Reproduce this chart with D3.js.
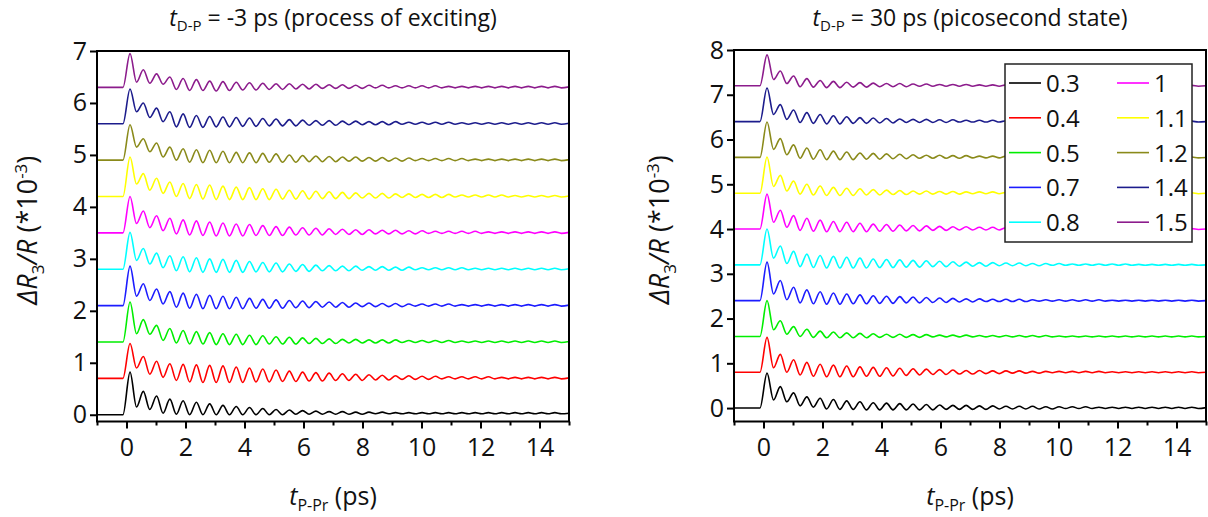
<!DOCTYPE html>
<head>
<meta charset="utf-8">
<style>
  body { margin:0; background:#fff; }
  svg text { font-family:"Open Sans", sans-serif; fill:#111; }
  .frame { fill:none; stroke:#000; stroke-width:2; }
  .axis path { display:none; }
  .axis line { stroke:#000; stroke-width:2; }
  .axis text { font-size:25px; fill:#111; }
  .curve { fill:none; stroke-width:1.6; stroke-linejoin:round; }
</style>
</head>
<body>
<script src="https://d3js.org/d3.v7.min.js"></script>
<script>

// pump energies (legend) and colours
var names = ["0.3", "0.4", "0.5", "0.7", "0.8", "1", "1.1", "1.2", "1.4", "1.5"];
var colors = ["#000000", "#ff0000", "#00ee00", "#1c1cff", "#00ffff",
              "#ff00ff", "#ffff00", "#8a8a1a", "#1c1c8c", "#8c1c8c"];

// vertical offsets of each trace
var offsetsLeft = [0, 0.7, 1.4, 2.1, 2.8, 3.5, 4.2, 4.9, 5.6, 6.3];
var offsetsRight = [0, 0.8, 1.6, 2.4, 3.2, 4.0, 4.8, 5.6, 6.4, 7.2];

// times (ps) of the successive peaks / troughs
var tExt = [-1, -0.12,
  0.12, 0.34, 0.57, 0.79, 1.02, 1.24, 1.47, 1.69, 1.92, 2.14,
  2.37, 2.59, 2.82, 3.04, 3.27, 3.49, 3.72, 3.94, 4.17, 4.39,
  4.62, 4.84, 5.07, 5.29, 5.52, 5.74, 5.97, 6.19, 6.42, 6.64,
  6.87, 7.09, 7.32, 7.54, 7.77, 7.99, 8.22, 8.44, 8.67, 8.89,
  9.12, 9.34, 9.57, 9.79, 10.02, 10.24, 10.47, 10.69, 10.92, 11.14,
  11.37, 11.59, 11.82, 12.04, 12.27, 12.49, 12.72, 12.94, 13.17, 13.39,
  13.62, 13.84, 14.07, 14.29, 14.52, 14.74,
  15];

// t_D-P = -3 ps : signal above each trace's offset at the times above
var L03 = [0, 0,
 .82,.15, .45,.10, .36,.03, .30,.01, .27,.00,
 .24,.00, .21,.00, .18,.00, .16,.00, .14,.00,
 .12,.00, .10,.00, .09,.01, .08,.01, .07,.01,
 .06,.01, .06,.01, .05,.01, .05,.02, .05,.02,
 .04,.02, .04,.02, .04,.02, .04,.02, .04,.02,
 .04,.02, .04,.02, .04,.02, .04,.02, .04,.02,
 .04,.02, .04,.02, .04,.02,
 .03];
var L04 = [0, 0,
 .67,.20, .42,.08, .33,.02, .28,-.04, .27,-.07,
 .26,-.08, .25,-.08, .24,-.08, .22,-.08, .20,-.07,
 .18,-.07, .16,-.06, .14,-.06, .12,-.05, .11,-.05,
 .10,-.04, .09,-.04, .08,-.04, .07,-.03, .06,-.03,
 .05,-.02, .05,-.02, .04,-.02, .04,-.01, .03,-.01,
 .03,-.01, .03,-.01, .03,-.01, .02,-.01, .02,-.01,
 .02,-.01, .02,-.01, .02,-.01,
 .01];
var L05 = [0, 0,
 .77,.16, .43,.15, .32,.03, .26,-.02, .22,-.04,
 .20,-.04, .18,-.05, .16,-.05, .15,-.05, .13,-.05,
 .12,-.04, .10,-.04, .09,-.04, .08,-.03, .07,-.03,
 .06,-.03, .05,-.02, .05,-.02, .04,-.02, .04,-.02,
 .04,-.01, .03,-.01, .03,-.01, .03,-.01, .03,-.01,
 .02,-.01, .02,-.01, .02,-.01, .02,-.01, .02,-.01,
 .02,-.01, .02,-.01, .02,-.01,
 .01];
var L07 = [0, 0,
 .76,.18, .42,.10, .32,.03, .27,-.03, .24,-.05,
 .22,-.06, .20,-.06, .18,-.06, .16,-.06, .14,-.05,
 .12,-.05, .11,-.05, .10,-.04, .09,-.04, .08,-.03,
 .07,-.03, .06,-.03, .05,-.02, .05,-.02, .04,-.02,
 .04,-.02, .03,-.01, .03,-.01, .03,-.01, .03,-.01,
 .02,-.01, .02,-.01, .02,-.01, .02,-.01, .02,-.01,
 .02,-.01, .02,-.01, .02,-.01,
 .01];
var L08 = [0, 0,
 .71,.17, .40,.10, .31,.03, .26,-.03, .24,-.05,
 .22,-.06, .20,-.06, .19,-.06, .17,-.06, .15,-.05,
 .13,-.05, .12,-.05, .10,-.04, .09,-.04, .08,-.03,
 .07,-.03, .06,-.03, .06,-.02, .05,-.02, .05,-.02,
 .04,-.02, .04,-.01, .03,-.01, .03,-.01, .03,-.01,
 .03,-.01, .02,-.01, .02,-.01, .02,-.01, .02,-.01,
 .02,-.01, .02,-.01, .02,-.01,
 .01];
var L1 = [0, 0,
 .70,.18, .42,.10, .33,.04, .28,-.02, .25,-.04,
 .23,-.05, .21,-.06, .19,-.06, .17,-.06, .16,-.05,
 .14,-.05, .12,-.05, .11,-.04, .10,-.04, .09,-.04,
 .08,-.03, .07,-.03, .06,-.03, .06,-.02, .05,-.02,
 .05,-.02, .04,-.02, .04,-.01, .03,-.01, .03,-.01,
 .03,-.01, .03,-.01, .02,-.01, .02,-.01, .02,-.01,
 .02,-.01, .02,-.01, .02,-.01,
 .01];
var L11 = [0, 0,
 .76,.24, .44,.12, .35,.06, .28,.00, .25,-.04,
 .23,-.05, .22,-.06, .20,-.06, .18,-.06, .17,-.06,
 .15,-.06, .14,-.05, .12,-.05, .11,-.05, .10,-.04,
 .09,-.04, .08,-.04, .07,-.03, .06,-.03, .06,-.03,
 .05,-.02, .05,-.02, .04,-.02, .04,-.02, .04,-.01,
 .03,-.01, .03,-.01, .03,-.01, .03,-.01, .02,-.01,
 .02,-.01, .02,-.01, .02,-.01,
 .01];
var L12 = [0, 0,
 .68,.25, .41,.16, .33,.06, .25,.00, .22,-.04,
 .20,-.05, .19,-.05, .17,-.05, .15,-.05, .14,-.05,
 .13,-.04, .12,-.04, .10,-.04, .09,-.03, .08,-.03,
 .07,-.03, .06,-.02, .06,-.02, .05,-.02, .05,-.02,
 .04,-.02, .04,-.01, .03,-.01, .03,-.01, .03,-.01,
 .03,-.01, .02,-.01, .02,-.01, .02,-.01, .02,-.01,
 .02,-.01, .02,-.01, .02,-.01,
 .01];
var L14 = [0, 0,
 .67,.23, .40,.12, .30,.04, .23,-.06, .19,-.07,
 .16,-.07, .14,-.06, .13,-.06, .12,-.05, .11,-.05,
 .10,-.04, .09,-.04, .08,-.04, .07,-.03, .06,-.03,
 .06,-.03, .05,-.02, .05,-.02, .04,-.02, .04,-.02,
 .04,-.01, .03,-.01, .03,-.01, .03,-.01, .03,-.01,
 .02,-.01, .02,-.01, .02,-.01, .02,-.01, .02,-.01,
 .02,-.01, .02,-.01, .02,-.01,
 .01];
var L15 = [0, 0,
 .65,.10, .34,.08, .26,.06, .20,-.04, .17,-.06,
 .15,-.06, .12,-.07, .11,-.06, .10,-.05, .09,-.05,
 .08,-.04, .07,-.04, .07,-.03, .06,-.03, .06,-.02,
 .05,-.02, .05,-.02, .04,-.02, .04,-.01, .04,-.01,
 .03,-.01, .03,-.01, .03,-.01, .03,-.01, .02,-.01,
 .02,-.01, .02,-.01, .02,-.01, .02,-.01, .02,-.01,
 .02,-.01, .02,-.01, .02,-.01,
 .01];

// t_D-P = 30 ps
var R03 = [0, 0,
 .78,.18, .48,.14, .34,.05, .25,.02, .22,-.02,
 .19,-.03, .16,-.03, .14,-.04, .12,-.04, .11,-.04,
 .10,-.04, .09,-.04, .08,-.04, .07,-.03, .06,-.03,
 .06,-.03, .05,-.03, .05,-.02, .04,-.02, .04,-.02,
 .04,-.02, .03,-.02, .03,-.01, .03,-.01, .03,-.01,
 .02,-.01, .02,-.01, .02,-.01, .02,-.01, .02,-.01,
 .02,-.01, .02,-.01, .02,-.01,
 .01];
var R04 = [0, 0,
 .78,.10, .40,.00, .28,-.06, .22,-.09, .18,-.10,
 .16,-.10, .14,-.10, .12,-.09, .11,-.09, .10,-.08,
 .09,-.07, .08,-.06, .07,-.05, .06,-.05, .05,-.04,
 .04,-.04, .04,-.03, .03,-.03, .03,-.02, .03,-.02,
 .02,-.02, .02,-.01, .02,-.01, .02,-.01, .02,-.01,
 .02,-.01, .01,-.01, .01,-.01, .01,-.01, .01,-.01,
 .01,-.01, .01,-.01, .01,-.01,
 .00];
var R05 = [0, 0,
 .80,.15, .35,.05, .22,.00, .16,-.02, .12,-.03,
 .10,-.03, .08,-.03, .07,-.03, .06,-.02, .05,-.02,
 .05,-.02, .04,-.02, .04,-.01, .03,-.01, .03,-.01,
 .03,-.01, .02,-.01, .02,-.01, .02,-.01, .02,-.01,
 .02,-.01, .02,-.01, .01,-.01, .01,-.01, .01,-.01,
 .01,-.01, .01,-.01, .01,-.01, .01,-.01, .01,-.01,
 .01,-.01, .01,-.01, .01,-.01,
 .00];
var R07 = [0, 0,
 .86,.15, .45,.02, .30,-.05, .24,-.07, .20,-.08,
 .17,-.08, .15,-.07, .13,-.07, .11,-.06, .10,-.06,
 .09,-.05, .08,-.05, .07,-.04, .06,-.04, .05,-.03,
 .04,-.03, .04,-.02, .03,-.02, .03,-.02, .03,-.02,
 .02,-.01, .02,-.01, .02,-.01, .02,-.01, .02,-.01,
 .02,-.01, .01,-.01, .01,-.01, .01,-.01, .01,-.01,
 .01,-.01, .01,-.01, .01,-.01,
 .00];
var R08 = [0, 0,
 .80,.15, .42,.03, .30,-.04, .24,-.06, .21,-.07,
 .19,-.07, .17,-.07, .15,-.07, .13,-.06, .12,-.06,
 .11,-.05, .10,-.05, .09,-.04, .08,-.04, .07,-.03,
 .06,-.03, .05,-.03, .05,-.02, .04,-.02, .04,-.02,
 .03,-.02, .03,-.01, .03,-.01, .02,-.01, .02,-.01,
 .02,-.01, .02,-.01, .02,-.01, .01,-.01, .01,-.01,
 .01,-.01, .01,-.01, .01,-.01,
 .00];
var R1 = [0, 0,
 .78,.15, .42,.04, .30,-.03, .24,-.05, .20,-.06,
 .17,-.06, .15,-.06, .13,-.06, .11,-.05, .10,-.05,
 .09,-.04, .08,-.04, .07,-.03, .06,-.03, .05,-.02,
 .05,-.02, .04,-.02, .04,-.02, .03,-.01, .03,-.01,
 .03,-.01, .02,-.01, .02,-.01, .02,-.01, .02,-.01,
 .02,-.01, .01,-.01, .01,-.01, .01,-.01, .01,-.01,
 .01,-.01, .01,-.01, .01,-.01,
 .00];
var R11 = [0, 0,
 .81,.15, .40,.05, .27,-.02, .20,-.04, .16,-.05,
 .13,-.05, .11,-.05, .10,-.04, .08,-.04, .07,-.03,
 .06,-.03, .05,-.02, .05,-.02, .04,-.02, .04,-.02,
 .03,-.01, .03,-.01, .03,-.01, .02,-.01, .02,-.01,
 .02,-.01, .02,-.01, .01,-.01, .01,-.01, .01,-.01,
 .01,-.01, .01,-.01, .01,-.01, .01,-.01, .01,-.01,
 .01,-.01, .01,-.01, .01,-.01,
 .00];
var R12 = [0, 0,
 .79,.18, .42,.06, .28,-.02, .21,-.04, .17,-.05,
 .14,-.05, .12,-.05, .10,-.04, .09,-.04, .08,-.03,
 .07,-.03, .06,-.02, .05,-.02, .05,-.02, .04,-.02,
 .04,-.01, .03,-.01, .03,-.01, .03,-.01, .02,-.01,
 .02,-.01, .02,-.01, .02,-.01, .01,-.01, .01,-.01,
 .01,-.01, .01,-.01, .01,-.01, .01,-.01, .01,-.01,
 .01,-.01, .01,-.01, .01,-.01,
 .00];
var R14 = [0, 0,
 .75,.16, .38,.05, .26,-.02, .20,-.04, .16,-.05,
 .13,-.05, .11,-.04, .09,-.04, .08,-.03, .07,-.03,
 .06,-.02, .05,-.02, .05,-.02, .04,-.02, .04,-.01,
 .03,-.01, .03,-.01, .03,-.01, .02,-.01, .02,-.01,
 .02,-.01, .02,-.01, .01,-.01, .01,-.01, .01,-.01,
 .01,-.01, .01,-.01, .01,-.01, .01,-.01, .01,-.01,
 .01,-.01, .01,-.01, .01,-.01,
 .00];
var R15 = [0, 0,
 .69,.14, .33,.05, .22,-.02, .16,-.03, .12,-.04,
 .10,-.04, .08,-.03, .07,-.03, .06,-.02, .05,-.02,
 .05,-.02, .04,-.01, .04,-.01, .03,-.01, .03,-.01,
 .03,-.01, .02,-.01, .02,-.01, .02,-.01, .02,-.01,
 .02,-.01, .01,-.01, .01,-.01, .01,-.01, .01,-.01,
 .01,-.01, .01,-.01, .01,-.01, .01,-.01, .01,-.01,
 .01,-.01, .01,-.01, .01,-.01,
 .00];

var xTicks = [0, 2, 4, 6, 8, 10, 12, 14];
var xMinor = [-1, 1, 3, 5, 7, 9, 11, 13, 15];
var yTicksLeft = [0, 1, 2, 3, 4, 5, 6, 7];
var yTicksRight = [0, 1, 2, 3, 4, 5, 6, 7, 8];

var width = 1208, height = 517;

var svg = d3.select("body").append("svg")
    .attr("width", width)
    .attr("height", height);

var panels = [
  { x0: 97, x1: 569, y0: 51, y1: 421.5, ymin: -0.13, ymax: 7,
    yTicks: yTicksLeft, offsets: offsetsLeft,
    curves: [L03, L04, L05, L07, L08, L1, L11, L12, L14, L15],
    title: " = -3 ps (process of exciting)", ylabX: 37, legend: false },
  { x0: 734, x1: 1206, y0: 50, y1: 421.5, ymin: -0.3, ymax: 8,
    yTicks: yTicksRight, offsets: offsetsRight,
    curves: [R03, R04, R05, R07, R08, R1, R11, R12, R14, R15],
    title: " = 30 ps (picosecond state)", ylabX: 669, legend: true }
];

panels.forEach(drawPanel);

function drawPanel(p) {
  var x = d3.scaleLinear().domain([-1, 15]).range([p.x0, p.x1]);
  var y = d3.scaleLinear().domain([p.ymin, p.ymax]).range([p.y1, p.y0]);
  var g = svg.append("g");

  var line = d3.line()
      .x(function(d) { return x(d[0]); })
      .y(function(d) { return y(d[1]); })
      .curve(d3.curveMonotoneX);

  p.curves.forEach(function(vals, i) {
    var pts = vals.map(function(v, k) { return [tExt[k], p.offsets[i] + v]; });
    g.append("path")
      .attr("class", "curve")
      .attr("d", line(pts))
      .style("stroke", colors[i]);
  });

  // axes
  g.append("g").attr("class", "axis")
    .attr("transform", "translate(0," + p.y1 + ")")
    .call(d3.axisBottom(x).tickValues(xTicks).tickSize(7).tickPadding(10));
  g.append("g").attr("class", "axis")
    .attr("transform", "translate(0," + p.y1 + ")")
    .call(d3.axisBottom(x).tickValues(xMinor).tickSize(4).tickFormat(""));
  g.append("g").attr("class", "axis")
    .attr("transform", "translate(" + p.x0 + ",0)")
    .call(d3.axisLeft(y).tickValues(p.yTicks).tickSize(7).tickPadding(3));

  g.append("rect").attr("class", "frame")
    .attr("x", p.x0).attr("y", p.y0)
    .attr("width", p.x1 - p.x0).attr("height", p.y1 - p.y0);

  var cx = (p.x0 + p.x1) / 2;

  // title
  var t = svg.append("text")
    .attr("x", cx).attr("y", 26)
    .attr("text-anchor", "middle")
    .style("font-size", "23px");
  t.append("tspan").style("font-style", "italic").text("t");
  t.append("tspan").attr("dy", 5).style("font-size", "15px").text("D-P");
  t.append("tspan").attr("dy", -5).text(p.title);

  // x label
  var xl = svg.append("text")
    .attr("x", cx).attr("y", 505)
    .attr("text-anchor", "middle")
    .style("font-size", "25px");
  xl.append("tspan").style("font-style", "italic").text("t");
  xl.append("tspan").attr("dy", 6).style("font-size", "16px").text("P-Pr");
  xl.append("tspan").attr("dy", -6).text(" (ps)");

  // y label
  var yl = svg.append("text")
    .attr("transform", "translate(" + p.ylabX + "," + ((p.y0 + p.y1) / 2 - 6) + ") rotate(-90)")
    .attr("text-anchor", "middle")
    .style("font-size", "27px");
  yl.append("tspan").style("font-style", "italic").text("\u0394R");
  yl.append("tspan").attr("dy", 7).style("font-size", "17px").text("3");
  yl.append("tspan").attr("dy", -7).style("font-style", "italic").text("/R");
  yl.append("tspan").text(" (*10");
  yl.append("tspan").attr("dy", -10).style("font-size", "17px").text("-3");
  yl.append("tspan").attr("dy", 10).text(")");

  if (p.legend) drawLegend();
}

function drawLegend() {
  var lg = svg.append("g");
  lg.append("rect")
    .attr("x", 1005).attr("y", 64).attr("width", 187).attr("height", 178)
    .style("fill", "#fff").style("stroke", "#222").style("stroke-width", 1.5);
  names.forEach(function(n, i) {
    var col = Math.floor(i / 5), row = i % 5;
    var lx = 1009 + col * 108, ly = 83 + row * 34.8;
    lg.append("line")
      .attr("x1", lx).attr("x2", lx + 32).attr("y1", ly).attr("y2", ly)
      .style("stroke", colors[i]).style("stroke-width", 1.6);
    lg.append("text")
      .attr("x", lx + 37).attr("y", ly + 9)
      .style("font-size", "24px")
      .text(n);
  });
}

</script>
</body>
